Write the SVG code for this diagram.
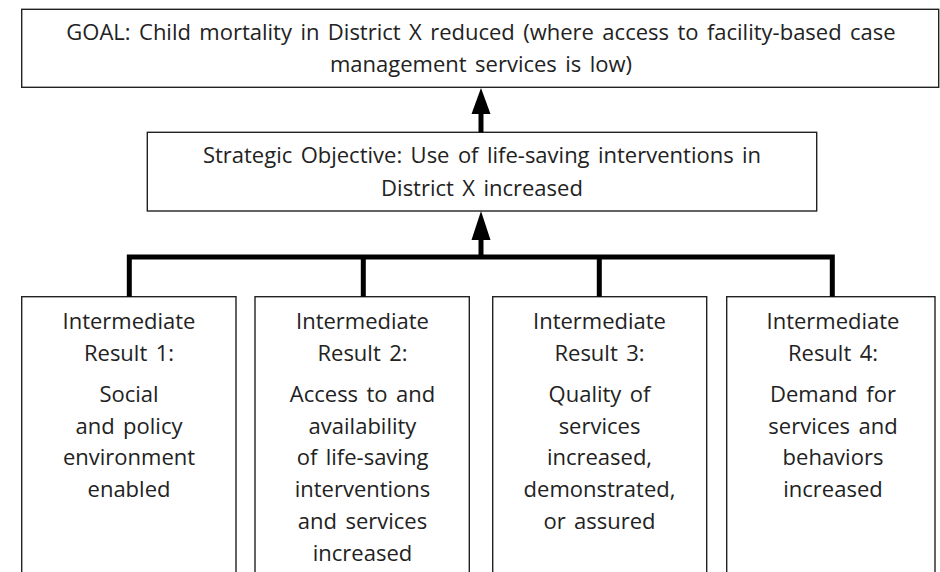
<svg xmlns="http://www.w3.org/2000/svg" width="940" height="572" viewBox="0 0 940 572">
<defs>
<style>
.box{fill:#fff;stroke:#222;stroke-width:1.4}
.t,.ti{font-family:"Open Sans","Noto Sans",sans-serif;font-size:22px;fill:#222;text-anchor:middle;word-spacing:2.7px}
.c{fill:none;stroke:#000;stroke-width:5}
.ah{fill:#000}
</style>
</defs>
<rect width="940" height="572" fill="#fff"/>
<g id="goal">
<rect class="box" x="21.7" y="9.3" width="917" height="78"/>
<text class="t" x="481" y="40">GOAL: Child mortality in District X reduced (where access to facility-based case</text>
<text class="t" x="481" y="72">management services is low)</text>
</g>
<g id="so">
<rect class="box" x="147.3" y="132.3" width="669.4" height="78.7"/>
<text class="t" x="482" y="163.3">Strategic Objective: Use of life-saving interventions in</text>
<text class="t" x="482" y="196">District X increased</text>
</g>
<g id="ir1">
<rect class="box" x="21.7" y="296.7" width="214.3" height="290"/>
<text class="ti" x="129" y="329.3">Intermediate</text>
<text class="ti" x="129" y="361">Result 1:</text>
<text class="ti" x="129" y="401.7">Social</text>
<text class="ti" x="129" y="434">and policy</text>
<text class="ti" x="129" y="465">environment</text>
<text class="ti" x="129" y="497.3">enabled</text>
</g>
<g id="ir2">
<rect class="box" x="255" y="296.7" width="214.3" height="290"/>
<text class="ti" x="362.5" y="329.3">Intermediate</text>
<text class="ti" x="362.5" y="361">Result 2:</text>
<text class="ti" x="362.5" y="401.7">Access to and</text>
<text class="ti" x="362.5" y="434">availability</text>
<text class="ti" x="362.5" y="465">of life-saving</text>
<text class="ti" x="362.5" y="497.3">interventions</text>
<text class="ti" x="362.5" y="529.3">and services</text>
<text class="ti" x="362.5" y="561">increased</text>
</g>
<g id="ir3">
<rect class="box" x="492.7" y="296.7" width="214" height="290"/>
<text class="ti" x="599.5" y="329.3">Intermediate</text>
<text class="ti" x="599.5" y="361">Result 3:</text>
<text class="ti" x="599.5" y="401.7">Quality of</text>
<text class="ti" x="599.5" y="434">services</text>
<text class="ti" x="599.5" y="465">increased,</text>
<text class="ti" x="599.5" y="497.3">demonstrated,</text>
<text class="ti" x="599.5" y="529.3">or assured</text>
</g>
<g id="ir4">
<rect class="box" x="726.7" y="296.7" width="208.3" height="290"/>
<text class="ti" x="833" y="329.3">Intermediate</text>
<text class="ti" x="833" y="361">Result 4:</text>
<text class="ti" x="833" y="401.7">Demand for</text>
<text class="ti" x="833" y="434">services and</text>
<text class="ti" x="833" y="465">behaviors</text>
<text class="ti" x="833" y="497.3">increased</text>
</g>
<g id="connectors">
<path class="c" d="M481,132.3 L481,110"/>
<polygon class="ah" points="481,88 490.5,114 471.5,114"/>
<path class="c" d="M481,257 L481,236"/>
<polygon class="ah" points="481,211 490.5,240 471.5,240"/>
<path class="c" d="M129.3,296.7 L129.3,257 L832.3,257 L832.3,296.7"/>
<path class="c" d="M363.3,257 L363.3,296.7 M599.3,257 L599.3,296.7"/>
</g>
</svg>
